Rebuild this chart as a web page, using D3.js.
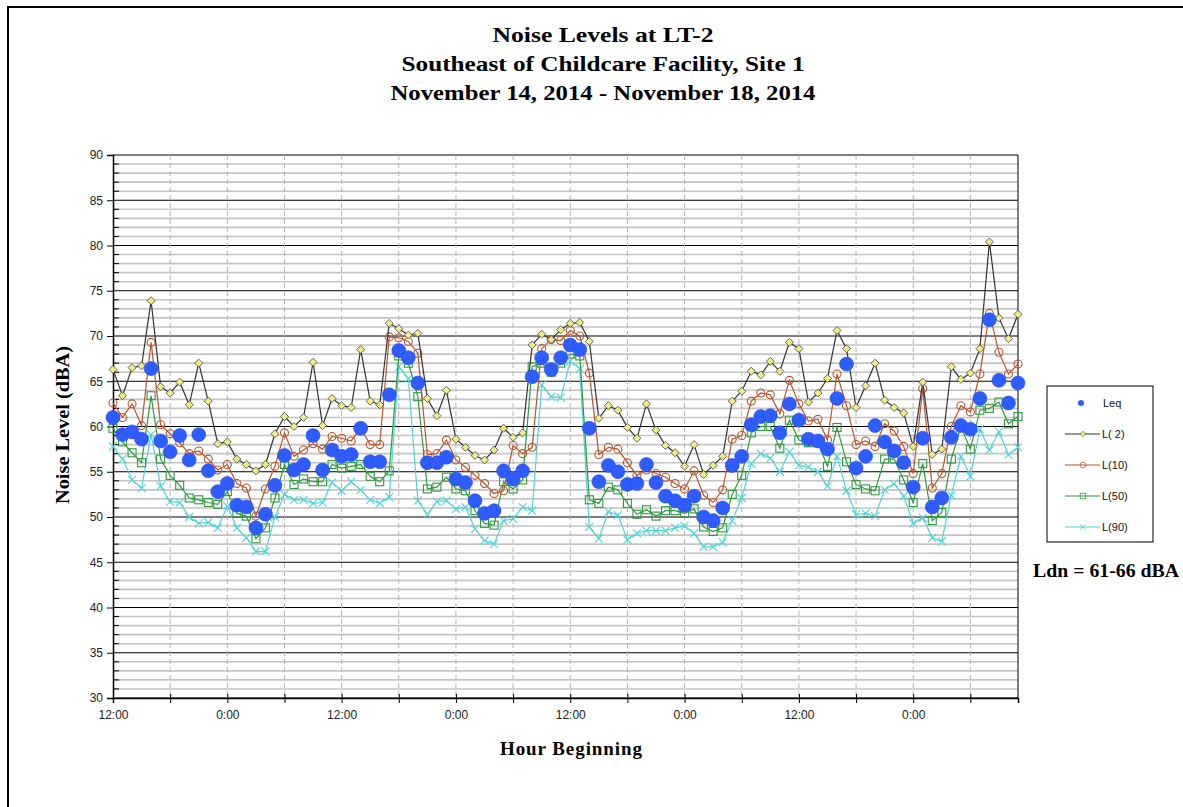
<!DOCTYPE html>
<html>
<head>
<meta charset="utf-8">
<script src="https://cdn.jsdelivr.net/npm/d3@7"></script>
<style>
    body { margin: 0; background: #fff; }
    svg { display: block; }
    .title { font-family: 'Liberation Serif', 'Times New Roman', serif; font-weight: bold; fill: #000; }
    .tick text { font-family: 'Liberation Sans', Arial, sans-serif; font-size: 12px; fill: #222; }
</style>
</head>
<body>
<div id="chart"></div>
<script>
// hours counted from 12:00 on Nov 14, one reading per hour
var hours = d3.range(96);

var leq = [61.0, 59.1, 59.4, 58.6, 66.4, 58.4, 57.2, 59.0, 56.3, 59.1, 55.1, 52.8, 53.7, 51.3, 51.1, 48.8, 50.3, 53.5, 56.8, 55.2, 55.8, 59.0, 55.2, 57.4,
    56.7, 56.9, 59.8, 56.1, 56.1, 63.5, 68.4, 67.6, 64.8, 56.0, 56.0, 56.6, 54.2, 53.8, 51.8, 50.4, 50.7, 55.1, 54.2, 55.1, 65.5, 67.6, 66.3, 67.6,
    69.0, 68.5, 59.8, 53.9, 55.7, 55.0, 53.6, 53.7, 55.8, 53.8, 52.3, 51.8, 51.3, 52.3, 50.0, 49.6, 51.0, 55.7, 56.7, 60.2, 61.1, 61.2, 59.3, 62.5,
    60.7, 58.6, 58.4, 57.5, 63.1, 66.9, 55.4, 56.7, 60.1, 58.3, 57.3, 56.0, 53.3, 58.7, 51.1, 52.1, 58.8, 60.1, 59.7, 63.1, 71.8, 65.1, 62.6, 64.8];

var l2 = [66.3, 63.4, 66.5, 66.7, 73.9, 64.4, 63.7, 64.9, 62.4, 67.0, 62.8, 58.1, 58.3, 56.4, 55.8, 55.1, 55.8, 59.2, 61.1, 60.0, 61.0, 67.1, 60.1, 63.1,
    62.3, 62.1, 68.5, 62.8, 62.4, 71.4, 70.8, 70.1, 70.3, 63.1, 61.2, 64.0, 58.6, 57.7, 56.8, 56.3, 57.4, 59.8, 58.8, 59.3, 69.0, 70.2, 69.6, 70.7,
    71.4, 71.5, 69.4, 60.9, 62.3, 61.8, 59.9, 58.7, 62.5, 59.6, 57.9, 57.1, 55.6, 58.0, 54.7, 55.7, 56.7, 62.8, 63.9, 66.1, 65.7, 67.2, 66.1, 69.3,
    68.6, 62.7, 63.7, 65.3, 70.6, 68.6, 62.1, 64.5, 67.0, 62.9, 62.1, 61.5, 57.8, 64.9, 56.9, 57.5, 66.6, 65.2, 65.9, 68.6, 80.4, 72.0, 69.7, 72.4];

var l10 = [62.6, 61.0, 62.5, 60.1, 69.3, 60.2, 59.2, 58.2, 57.0, 57.3, 56.4, 55.2, 55.8, 53.7, 53.2, 50.1, 53.1, 55.6, 59.3, 56.7, 57.4, 58.1, 57.5, 58.9,
    58.7, 58.4, 59.8, 58.0, 58.0, 69.9, 69.8, 69.4, 68.1, 56.9, 57.0, 58.5, 56.3, 55.5, 54.6, 53.7, 52.6, 52.9, 57.9, 57.0, 57.7, 68.6, 69.6, 69.5,
    70.6, 70.0, 65.9, 56.9, 57.7, 57.5, 56.0, 54.6, 55.2, 54.8, 54.4, 53.7, 53.1, 55.1, 52.4, 51.6, 53.0, 58.6, 59.0, 62.8, 63.7, 63.5, 61.4, 65.1,
    62.5, 60.6, 60.8, 58.5, 65.8, 62.3, 58.0, 58.4, 57.8, 60.3, 59.5, 57.8, 54.8, 64.2, 53.2, 54.8, 60.0, 62.3, 61.6, 65.8, 72.5, 68.2, 65.8, 66.9];

var l50 = [59.8, 58.3, 57.1, 56.0, 63.4, 56.4, 54.6, 53.5, 52.1, 51.9, 51.6, 51.4, 52.8, 50.4, 50.1, 47.6, 48.8, 52.1, 55.8, 53.6, 54.2, 53.9, 53.9, 55.8,
    55.4, 55.6, 55.8, 54.5, 53.9, 55.1, 67.8, 67.0, 63.3, 53.1, 53.3, 54.4, 53.1, 52.9, 50.7, 49.3, 49.1, 53.9, 53.1, 54.1, 66.6, 67.0, 66.0, 67.0,
    68.0, 67.8, 51.9, 51.5, 53.3, 53.0, 51.5, 50.3, 50.8, 50.1, 50.7, 50.7, 50.4, 50.9, 48.9, 48.4, 48.8, 52.5, 54.6, 59.3, 60.0, 60.0, 57.6, 60.7,
    58.5, 58.2, 58.2, 55.6, 59.9, 56.1, 53.6, 53.1, 52.9, 56.4, 56.4, 54.1, 51.6, 55.9, 49.6, 50.5, 56.4, 60.0, 57.5, 61.8, 62.0, 62.7, 60.3, 61.1];

var l90 = [57.8, 56.4, 54.1, 53.2, 59.1, 53.4, 51.7, 51.6, 50.0, 49.3, 49.4, 48.8, 51.2, 48.8, 47.7, 46.2, 46.2, 50.0, 52.5, 51.9, 51.9, 51.5, 51.6, 53.8,
    52.9, 53.9, 53.0, 51.9, 51.5, 52.2, 66.6, 65.3, 51.8, 50.3, 51.7, 51.8, 50.9, 51.1, 48.7, 47.4, 47.0, 49.6, 49.8, 51.1, 50.7, 64.6, 63.3, 63.2,
    67.2, 66.4, 48.9, 47.6, 50.6, 50.2, 47.5, 48.2, 48.5, 48.5, 48.5, 48.8, 49.0, 48.2, 46.7, 46.7, 47.2, 49.6, 52.1, 55.9, 57.0, 56.5, 55.0, 57.2,
    55.7, 55.5, 55.0, 53.4, 56.7, 52.9, 50.3, 50.4, 50.1, 53.0, 53.7, 52.3, 49.3, 49.9, 47.7, 47.3, 52.4, 56.7, 54.5, 59.7, 57.4, 59.4, 56.9, 57.7];

var titleLines = ['Noise Levels at LT-2', 'Southeast of Childcare Facility, Site 1', 'November 14, 2014 - November 18, 2014'];
var seriesNames = ['Leq', 'L( 2)', 'L(10)', 'L(50)', 'L(90)'];

var width = 1183, height = 807;
var plot = { left: 113, right: 1018, top: 155, bottom: 698 };

var svg = d3.select('#chart').append('svg')
    .attr('width', width)
    .attr('height', height);

// page frame
svg.append('rect')
    .attr('x', 8).attr('y', 7)
    .attr('width', 1200).attr('height', 900)
    .attr('fill', 'none')
    .attr('stroke', '#000')
    .attr('stroke-width', 2);

var x = d3.scaleLinear().domain([0, 95]).range([plot.left, plot.right]);
var y = d3.scaleLinear().domain([30, 90]).range([plot.bottom, plot.top]);

// horizontal grid: grey every 1 dB, black every 5 dB
svg.append('g')
    .selectAll('line')
    .data(d3.range(31, 90).filter(function(v) { return v % 5 !== 0; }))
    .enter().append('line')
    .attr('x1', plot.left).attr('x2', plot.right)
    .attr('y1', function(d) { return y(d); })
    .attr('y2', function(d) { return y(d); })
    .attr('stroke', '#c4c4c4')
    .attr('stroke-width', 1.6);

svg.append('g')
    .selectAll('line')
    .data(d3.range(30, 91, 5))
    .enter().append('line')
    .attr('x1', plot.left).attr('x2', plot.right)
    .attr('y1', function(d) { return y(d); })
    .attr('y2', function(d) { return y(d); })
    .attr('stroke', '#000')
    .attr('stroke-width', 1.2);

// vertical dashed grid every 6 hours
svg.append('g')
    .selectAll('line')
    .data(d3.range(6, 95, 6))
    .enter().append('line')
    .attr('x1', function(d) { return x(d); })
    .attr('x2', function(d) { return x(d); })
    .attr('y1', plot.top).attr('y2', plot.bottom)
    .attr('stroke', '#b4b4b4')
    .attr('stroke-dasharray', '5,3');

// right border of plot
svg.append('line')
    .attr('x1', plot.right).attr('x2', plot.right)
    .attr('y1', plot.top).attr('y2', plot.bottom)
    .attr('stroke', '#000');

// axes
var yAxis = svg.append('g')
    .attr('transform', 'translate(' + plot.left + ',0)')
    .call(d3.axisLeft(y).tickValues(d3.range(30, 91, 5)).tickSize(6).tickPadding(4));
yAxis.select('.domain').attr('stroke', '#000').attr('stroke-width', 1.5);

svg.append('g')
    .selectAll('line')
    .data(d3.range(31, 90).filter(function(v) { return v % 5 !== 0; }))
    .enter().append('line')
    .attr('x1', plot.left).attr('x2', plot.left + 6)
    .attr('y1', function(d) { return y(d); })
    .attr('y2', function(d) { return y(d); })
    .attr('stroke', '#000');

var xAxis = svg.append('g')
    .attr('transform', 'translate(0,' + plot.bottom + ')')
    .call(d3.axisBottom(x)
        .tickValues(d3.range(0, 96, 6))
        .tickSize(5)
        .tickPadding(7)
        .tickFormat(function(h) {
            var clock = (12 + h) % 24;
            if (clock === 12) return '12:00';
            if (clock === 0) return '0:00';
            return '';
        }));
xAxis.select('.domain').attr('stroke', '#000').attr('stroke-width', 1.5);
xAxis.selectAll('.tick line').attr('y1', -4);

// titles
var title = svg.append('g').attr('class', 'title');
var titleWidths = [221, 403, 425];
titleLines.forEach(function(t, i) {
    title.append('text')
        .attr('x', 603)
        .attr('y', 42 + i * 29)
        .attr('text-anchor', 'middle')
        .attr('font-size', 21)
        .attr('textLength', titleWidths[i])
        .attr('lengthAdjust', 'spacingAndGlyphs')
        .text(t);
});

svg.append('text')
    .attr('class', 'title')
    .attr('transform', 'translate(69,425) rotate(-90)')
    .attr('text-anchor', 'middle')
    .attr('font-size', 19)
    .attr('textLength', 158)
    .attr('lengthAdjust', 'spacingAndGlyphs')
    .text('Noise Level (dBA)');

svg.append('text')
    .attr('class', 'title')
    .attr('x', 571).attr('y', 755)
    .attr('text-anchor', 'middle')
    .attr('font-size', 19)
    .attr('textLength', 142)
    .attr('lengthAdjust', 'spacing')
    .text('Hour Beginning');

svg.append('text')
    .attr('class', 'title')
    .attr('x', 1106).attr('y', 577)
    .attr('text-anchor', 'middle')
    .attr('font-size', 18)
    .attr('textLength', 146)
    .attr('lengthAdjust', 'spacingAndGlyphs')
    .text('Ldn = 61-66 dBA');

// marker drawing helpers
var symbols = {
    diamond: function(g, fill, stroke) {
        g.append('path')
            .attr('d', 'M0,-4L4,0L0,4L-4,0Z')
            .attr('fill', fill).attr('stroke', stroke).attr('stroke-width', 0.8);
    },
    circle: function(g, fill, stroke) {
        g.append('circle').attr('r', 4)
            .attr('fill', 'none').attr('stroke', stroke).attr('stroke-width', 1.1);
    },
    square: function(g, fill, stroke) {
        g.append('rect').attr('x', -4).attr('y', -4).attr('width', 8).attr('height', 8)
            .attr('fill', 'none').attr('stroke', stroke).attr('stroke-width', 1.1);
    },
    cross: function(g, fill, stroke) {
        g.append('path').attr('d', 'M-4,-4L4,4M-4,4L4,-4')
            .attr('stroke', stroke).attr('stroke-width', 1.1);
    }
};

var lineSeries = [
    { name: seriesNames[4], values: l90, color: '#4fd4d8', marker: 'cross', fill: 'none' },
    { name: seriesNames[3], values: l50, color: '#2e9a3c', marker: 'square', fill: 'none' },
    { name: seriesNames[2], values: l10, color: '#b8552c', marker: 'circle', fill: 'none' },
    { name: seriesNames[1], values: l2, color: '#333333', marker: 'diamond', fill: '#eeee88' }
];

var line = d3.line()
    .x(function(d, i) { return x(hours[i]); })
    .y(function(d) { return y(d); });

lineSeries.forEach(function(s) {
    var g = svg.append('g');
    g.append('path')
        .datum(s.values)
        .attr('d', line)
        .attr('fill', 'none')
        .attr('stroke', s.color)
        .attr('stroke-width', 1.2);
    g.selectAll('g')
        .data(s.values)
        .enter().append('g')
        .attr('transform', function(d, i) { return 'translate(' + x(hours[i]) + ',' + y(d) + ')'; })
        .each(function() {
            symbols[s.marker](d3.select(this), s.fill, s.marker === 'diamond' ? '#444' : s.color);
        });
});

svg.append('g')
    .selectAll('circle')
    .data(leq)
    .enter().append('circle')
    .attr('cx', function(d, i) { return x(hours[i]); })
    .attr('cy', function(d) { return y(d); })
    .attr('r', 7)
    .attr('fill', '#2f5cff')
    .attr('stroke', '#2a4fe0')
    .attr('stroke-width', 0.6);

// legend
var legend = svg.append('g').attr('transform', 'translate(1047,386)');
legend.append('rect')
    .attr('width', 106).attr('height', 156)
    .attr('fill', '#fff').attr('stroke', '#000');

var legendItems = [
    { name: seriesNames[0], color: '#2f5cff', marker: null },
    lineSeries[3], lineSeries[2], lineSeries[1], lineSeries[0]
];
legendItems.forEach(function(s, i) {
    var row = legend.append('g').attr('transform', 'translate(0,' + (17 + i * 31) + ')');
    if (s.marker) {
        row.append('line')
            .attr('x1', 18).attr('x2', 53)
            .attr('stroke', s.color).attr('stroke-width', 1.2);
        var m = row.append('g').attr('transform', 'translate(36,0) scale(0.7)');
        symbols[s.marker](m, s.fill, s.marker === 'diamond' ? '#444' : s.color);
    } else {
        row.append('circle').attr('cx', 34).attr('r', 3).attr('fill', s.color);
    }
    row.append('text')
        .attr('x', s.marker ? 55 : 56)
        .attr('y', 4)
        .attr('font-family', 'Liberation Sans, Arial, sans-serif')
        .attr('font-size', 11)
        .attr('fill', '#111')
        .text(s.name);
});
</script>
</body>
</html>
